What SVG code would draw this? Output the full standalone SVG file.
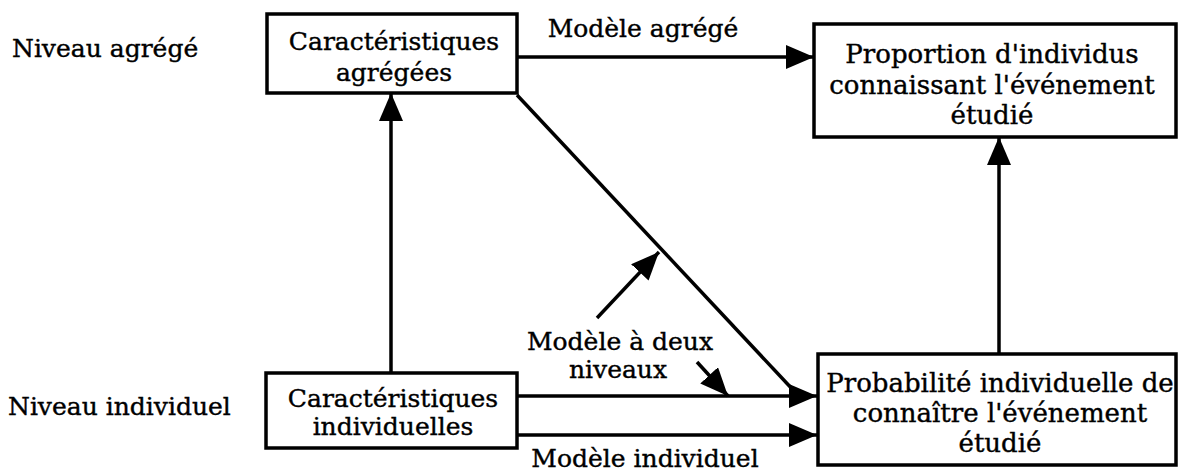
<svg xmlns="http://www.w3.org/2000/svg" width="1178" height="475" viewBox="0 0 1178 475">
<style>
.box{fill:#fff;stroke:#000;stroke-width:3.5}
text{font-family:"DejaVu Serif","Liberation Serif",serif;font-size:25px;fill:#000;stroke:#000;stroke-width:0.4}
.c{text-anchor:middle}
.r{font-size:26px}
.ln{stroke:#000;stroke-width:3.5;fill:none}
</style>
<defs>
<marker id="ah" markerUnits="userSpaceOnUse" markerWidth="28" markerHeight="24" refX="28" refY="12" orient="auto">
<path d="M0,0 L28,12 L0,24 z" fill="#000"/>
</marker>
</defs>
<rect width="1178" height="475" fill="#fff"/>
<text x="12" y="57">Niveau agrégé</text>
<text x="8" y="415">Niveau individuel</text>
<g id="connectors">
<line class="ln" x1="517" y1="57" x2="814" y2="57" marker-end="url(#ah)"/>
<line class="ln" x1="391" y1="373" x2="391" y2="93" marker-end="url(#ah)"/>
<line class="ln" x1="999" y1="354" x2="999" y2="137" marker-end="url(#ah)"/>
<line class="ln" x1="517" y1="95" x2="795" y2="392"/>
<line class="ln" x1="517" y1="396" x2="817" y2="396" marker-end="url(#ah)"/>
<line class="ln" x1="517" y1="435" x2="817" y2="435" marker-end="url(#ah)"/>
<line class="ln" x1="597" y1="318" x2="659" y2="252" marker-end="url(#ah)"/>
<line class="ln" x1="697" y1="362" x2="728" y2="396" marker-end="url(#ah)"/>
<text class="c" x="643" y="37">Modèle agrégé</text>
<text class="c" x="620" y="350">Modèle à deux</text>
<text class="c" x="618" y="378">niveaux</text>
<text class="c" x="645" y="467">Modèle individuel</text>
</g>
<g id="agg-char">
<rect class="box" x="267" y="14" width="250" height="79"/>
<text class="c" x="394" y="50">Caractéristiques</text>
<text class="c" x="394" y="81">agrégées</text>
</g>
<g id="ind-char">
<rect class="box" x="266" y="373" width="251" height="75"/>
<text class="c" x="393" y="407">Caractéristiques</text>
<text class="c" x="393" y="435">individuelles</text>
</g>
<g id="proportion">
<rect class="box" x="814" y="24" width="362" height="113"/>
<text class="c r" x="992" y="63">Proportion d'individus</text>
<text class="c r" x="992" y="94">connaissant l'événement</text>
<text class="c r" x="992" y="124">étudié</text>
</g>
<g id="probabilite">
<rect class="box" x="818" y="354" width="358" height="111"/>
<text class="c r" x="1000" y="392">Probabilité individuelle de</text>
<text class="c r" x="1000" y="422">connaître l'événement</text>
<text class="c r" x="1000" y="452">étudié</text>
</g>
</svg>
